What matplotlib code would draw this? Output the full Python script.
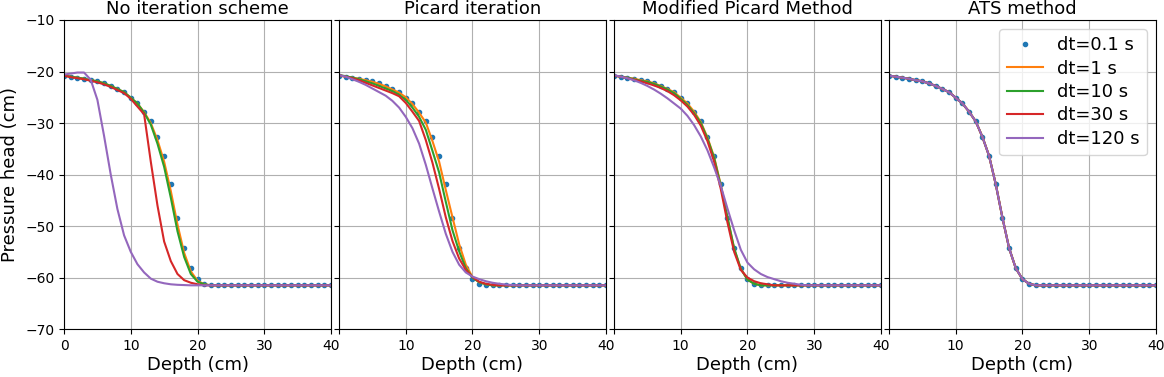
import numpy as np
import matplotlib
matplotlib.use("Agg")
import matplotlib.pyplot as plt

depth = np.arange(0, 41)
flat = [-61.5] * 18

# reference solution, dt = 0.1 s (same in every panel)
ref = [-20.8, -21.0, -21.2, -21.4, -21.7, -21.9, -22.3, -22.8, -23.4, -24.0,
       -25.1, -26.2, -27.8, -29.7, -32.7, -36.4, -41.9, -48.4, -54.3, -58.2,
       -60.3, -61.2, -61.5] + flat

labels = ["dt=1 s", "dt=10 s", "dt=30 s", "dt=120 s"]
titles = ["No iteration scheme", "Picard iteration", "Modified Picard Method", "ATS method"]

# no iteration scheme
noit_1 = [-20.8, -21.0, -21.2, -21.4, -21.7, -21.9, -22.3, -22.8, -23.4, -24.0,
          -25.1, -26.2, -27.9, -30.0, -33.3, -37.5, -43.2, -49.7, -55.2, -58.8,
          -60.6, -61.3, -61.5] + flat
noit_10 = [-20.8, -21.0, -21.2, -21.4, -21.7, -21.9, -22.3, -22.8, -23.4, -24.0,
           -25.1, -26.2, -28.0, -30.3, -34.0, -38.5, -44.5, -51.0, -56.0, -59.3,
           -60.8, -61.3, -61.5] + flat
noit_30 = [-20.8, -21.1, -21.3, -21.5, -21.8, -22.1, -22.5, -23.0, -23.6, -24.2,
           -25.3, -26.8, -28.3, -37.5, -46.0, -53.0, -56.8, -59.3, -60.5, -61.0,
           -61.3, -61.5, -61.5] + flat
noit_120 = [-20.6, -20.4, -20.2, -20.2, -21.6, -25.5, -32.5, -40.0, -46.7, -51.8,
            -55.0, -57.4, -59.0, -60.2, -60.8, -61.1, -61.3, -61.4, -61.45, -61.5,
            -61.5, -61.5, -61.5] + flat

# Picard iteration
pic_1 = [-20.8, -21.0, -21.2, -21.4, -21.7, -22.0, -22.4, -22.9, -23.5, -24.1,
         -25.0, -26.3, -28.0, -29.9, -33.5, -37.5, -43.0, -48.3, -53.5, -57.5,
         -59.9, -60.9, -61.3, -61.5] + [-61.5] * 17
pic_10 = [-20.7, -20.9, -21.2, -21.5, -21.9, -22.3, -22.8, -23.3, -23.8, -24.5,
          -25.5, -27.0, -28.8, -31.3, -35.4, -39.6, -45.3, -50.8, -54.9, -58.2,
          -60.0, -60.9, -61.3, -61.5] + [-61.5] * 17
pic_30 = [-20.7, -21.0, -21.3, -21.7, -22.2, -22.7, -23.2, -23.7, -24.2, -24.8,
          -26.1, -27.8, -29.6, -33.3, -37.7, -42.8, -48.3, -52.9, -56.3, -58.5,
          -59.9, -60.8, -61.2, -61.4, -61.5] + [-61.5] * 16
pic_120 = [-20.7, -21.0, -21.5, -22.0, -22.6, -23.3, -24.0, -24.7, -25.7, -27.0,
           -28.8, -31.0, -34.0, -38.1, -42.7, -47.2, -51.5, -55.0, -57.5, -59.0,
           -59.8, -60.3, -60.7, -61.0, -61.2, -61.35, -61.45] + [-61.5] * 14

# Modified Picard
mp_1 = [-20.8, -21.0, -21.2, -21.4, -21.7, -21.9, -22.3, -22.8, -23.4, -24.0,
        -25.1, -26.2, -27.8, -29.8, -32.8, -36.6, -42.0, -48.4, -54.4, -58.3,
        -60.4, -61.2, -61.5] + flat
mp_10 = [-20.8, -21.0, -21.2, -21.5, -21.8, -22.0, -22.4, -22.9, -23.5, -24.2,
         -25.3, -26.5, -28.1, -30.0, -33.0, -36.8, -42.2, -48.3, -54.3, -58.3,
         -60.4, -61.2, -61.5] + flat
mp_30 = [-20.8, -21.0, -21.3, -21.6, -21.9, -22.3, -22.7, -23.2, -23.8, -24.6,
         -25.6, -26.8, -28.4, -30.5, -33.5, -37.5, -42.8, -49.3, -55.0, -58.5,
         -60.0, -60.7, -61.1, -61.3, -61.5] + [-61.5] * 16
mp_120 = [-20.7, -21.0, -21.3, -21.7, -22.2, -22.8, -23.5, -24.3, -25.2, -26.2,
          -27.2, -28.6, -30.4, -32.6, -35.3, -38.6, -42.2, -46.6, -50.8, -54.6,
          -57.1, -58.4, -59.3, -59.9, -60.3, -60.7, -61.0, -61.2, -61.4] + [-61.5] * 12

# ATS: all time steps fall on the reference
ats_1 = ref
ats_10 = ref
ats_30 = ref
ats_120 = ref

panels = [
    [noit_1, noit_10, noit_30, noit_120],
    [pic_1, pic_10, pic_30, pic_120],
    [mp_1, mp_10, mp_30, mp_120],
    [ats_1, ats_10, ats_30, ats_120],
]
colors = ["#ff7f0e", "#2ca02c", "#d62728", "#9467bd"]

fig, axes = plt.subplots(1, 4, figsize=(11.64, 3.77), dpi=100, sharey=True)
fig.subplots_adjust(left=0.055, right=0.9931, top=0.947, bottom=0.127, wspace=0.03)

for i, ax in enumerate(axes):
    ax.plot(depth, ref, ".", color="#1f77b4", markersize=6, label="dt=0.1 s")
    for ys, c, lab in zip(panels[i], colors, labels):
        ax.plot(depth, ys, "-", color=c, lw=1.5, label=lab)
    ax.set_xlim(0, 40)
    ax.set_ylim(-70, -10)
    ax.set_xticks([0, 10, 20, 30, 40])
    if i > 0:
        ax.set_xticklabels(["", "10", "20", "30", "40"])
    ax.grid(True, color="#b0b0b0", lw=0.8)
    ax.set_title(titles[i], fontsize=13, pad=4)
    ax.set_xlabel("Depth (cm)", fontsize=13, labelpad=2)

axes[0].set_ylabel("Pressure head (cm)", fontsize=13)
axes[3].legend(loc="upper right", fontsize=13, handlelength=2.0, borderpad=0.4,
               labelspacing=0.3)

fig.savefig("out.png", dpi=100)
